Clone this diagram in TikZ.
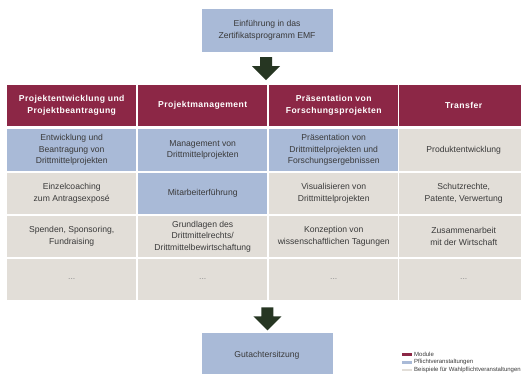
\documentclass[tikz,border=0pt]{standalone}
\usepackage{fontspec}
\setmainfont{Liberation Sans}
\usetikzlibrary{calc}
\definecolor{modcol}{HTML}{8C2746}
\definecolor{pflcol}{HTML}{A9BAD7}
\definecolor{wahlcol}{HTML}{E2DED8}
\definecolor{arrcol}{HTML}{263622}
\definecolor{txtcol}{HTML}{3A3A3A}
\definecolor{dotcol}{HTML}{8A8A8A}
\tikzset{
  cellbase/.style={anchor=north west, minimum width=129pt, minimum height=41.5pt,
    inner sep=0pt, align=center, text=txtcol,
    font=\fontsize{8.6}{11.6}\selectfont},
  headcell/.style={cellbase, fill=modcol, text=white,
    font=\fontsize{8.6}{12.5}\selectfont\bfseries\addfontfeatures{LetterSpace=5}},
  pflcell/.style={cellbase, fill=pflcol},
  wahlcell/.style={cellbase, fill=wahlcol},
  dotcell/.style={cellbase, fill=wahlcol, text=dotcol},
  bigbox/.style={fill=pflcol, minimum width=131pt, inner sep=0pt, align=center,
    text=txtcol, font=\fontsize{8.6}{11.6}\selectfont},
  blockarrow/.style={fill=arrcol, draw=none},
  swatch/.style={anchor=north west, minimum width=10pt, minimum height=2.6pt, inner sep=0pt},
  legtext/.style={anchor=west, inner sep=0pt, text=txtcol, font=\fontsize{6}{7}\selectfont}
}
\begin{document}
\begin{tikzpicture}[x=1pt,y=-1pt]
\useasboundingbox (0,0) rectangle (521,374);
\clip (0,0) rectangle (521,374);
\fill[white] (0,0) rectangle (521,374);

% top and bottom boxes
\node[bigbox, minimum height=43pt] (intro) at (267,30.5) {Einführung in das\\Zertifikatsprogramm EMF};
\node[bigbox, minimum height=44pt] (gut) at (267,355) {Gutachtersitzung};

% header row
\node[headcell] (h1) at (7,84.5) {Projektentwicklung und\\Projektbeantragung};
\node[headcell] (h2) at (138,84.5) {Projektmanagement};
\node[headcell] (h3) at (269,84.5) {Präsentation von\\Forschungsprojekten};
\node[headcell] (h4) at (399,84.5) {Transfer};

% row 1
\node[pflcell] (a1) at (7,129) {Entwicklung und\\Beantragung von\\Drittmittelprojekten};
\node[pflcell] (a2) at (138,129) {Management von\\Drittmittelprojekten};
\node[pflcell] (a3) at (269,129) {Präsentation von\\Drittmittelprojekten und\\Forschungsergebnissen};
\node[wahlcell] (a4) at (399,129) {Produktentwicklung};

% row 2
\node[wahlcell] (b1) at (7,172.5) {Einzelcoaching\\zum Antragsexposé};
\node[pflcell] (b2) at (138,172.5) {Mitarbeiterführung};
\node[wahlcell] (b3) at (269,172.5) {Visualisieren von\\Drittmittelprojekten};
\node[wahlcell] (b4) at (399,172.5) {Schutzrechte,\\Patente, Verwertung};

% row 3
\node[wahlcell] (c1) at (7,215.5) {Spenden, Sponsoring,\\Fundraising};
\node[wahlcell] (c2) at (138,215.5) {Grundlagen des\\Drittmittelrechts/\\Drittmittelbewirtschaftung};
\node[wahlcell] (c3) at (269,215.5) {Konzeption von\\wissenschaftlichen Tagungen};
\node[wahlcell] (c4) at (399,215.5) {Zusammenarbeit\\mit der Wirtschaft};

% row 4
\node[dotcell] (d1) at (7,258.5) {...};
\node[dotcell] (d2) at (138,258.5) {...};
\node[dotcell] (d3) at (269,258.5) {...};
\node[dotcell] (d4) at (399,258.5) {...};

% block arrows
\coordinate (ta) at ($(intro.south)+(-1,0)$);
\fill[blockarrow] ($(ta)+(-6,5)$) -- ($(ta)+(6,5)$) -- ($(ta)+(6,14)$) -- ($(ta)+(14,14)$)
  -- ($(ta)+(0,28)$) -- ($(ta)+(-14,14)$) -- ($(ta)+(-6,14)$) -- cycle;
\coordinate (ba) at ($(d2.south east)+(0,0)$);
\fill[blockarrow] ($(ba)+(-6,7)$) -- ($(ba)+(6,7)$) -- ($(ba)+(6,16)$) -- ($(ba)+(14,16)$)
  -- ($(ba)+(0,30)$) -- ($(ba)+(-14,16)$) -- ($(ba)+(-6,16)$) -- cycle;

% legend
\node[swatch, fill=modcol] (s1) at (402,353) {};
\node[swatch, fill=pflcol] (s2) at (402,361) {};
\node[swatch, fill=wahlcol] (s3) at (402,368.5) {};
\node[legtext] (l1) at (414,354.3) {Module};
\node[legtext] (l2) at (414,362.3) {Pflichtveranstaltungen};
\node[legtext] (l3) at (414,369.8) {Beispiele für Wahlpflichtveranstaltungen};
\end{tikzpicture}
\end{document}
